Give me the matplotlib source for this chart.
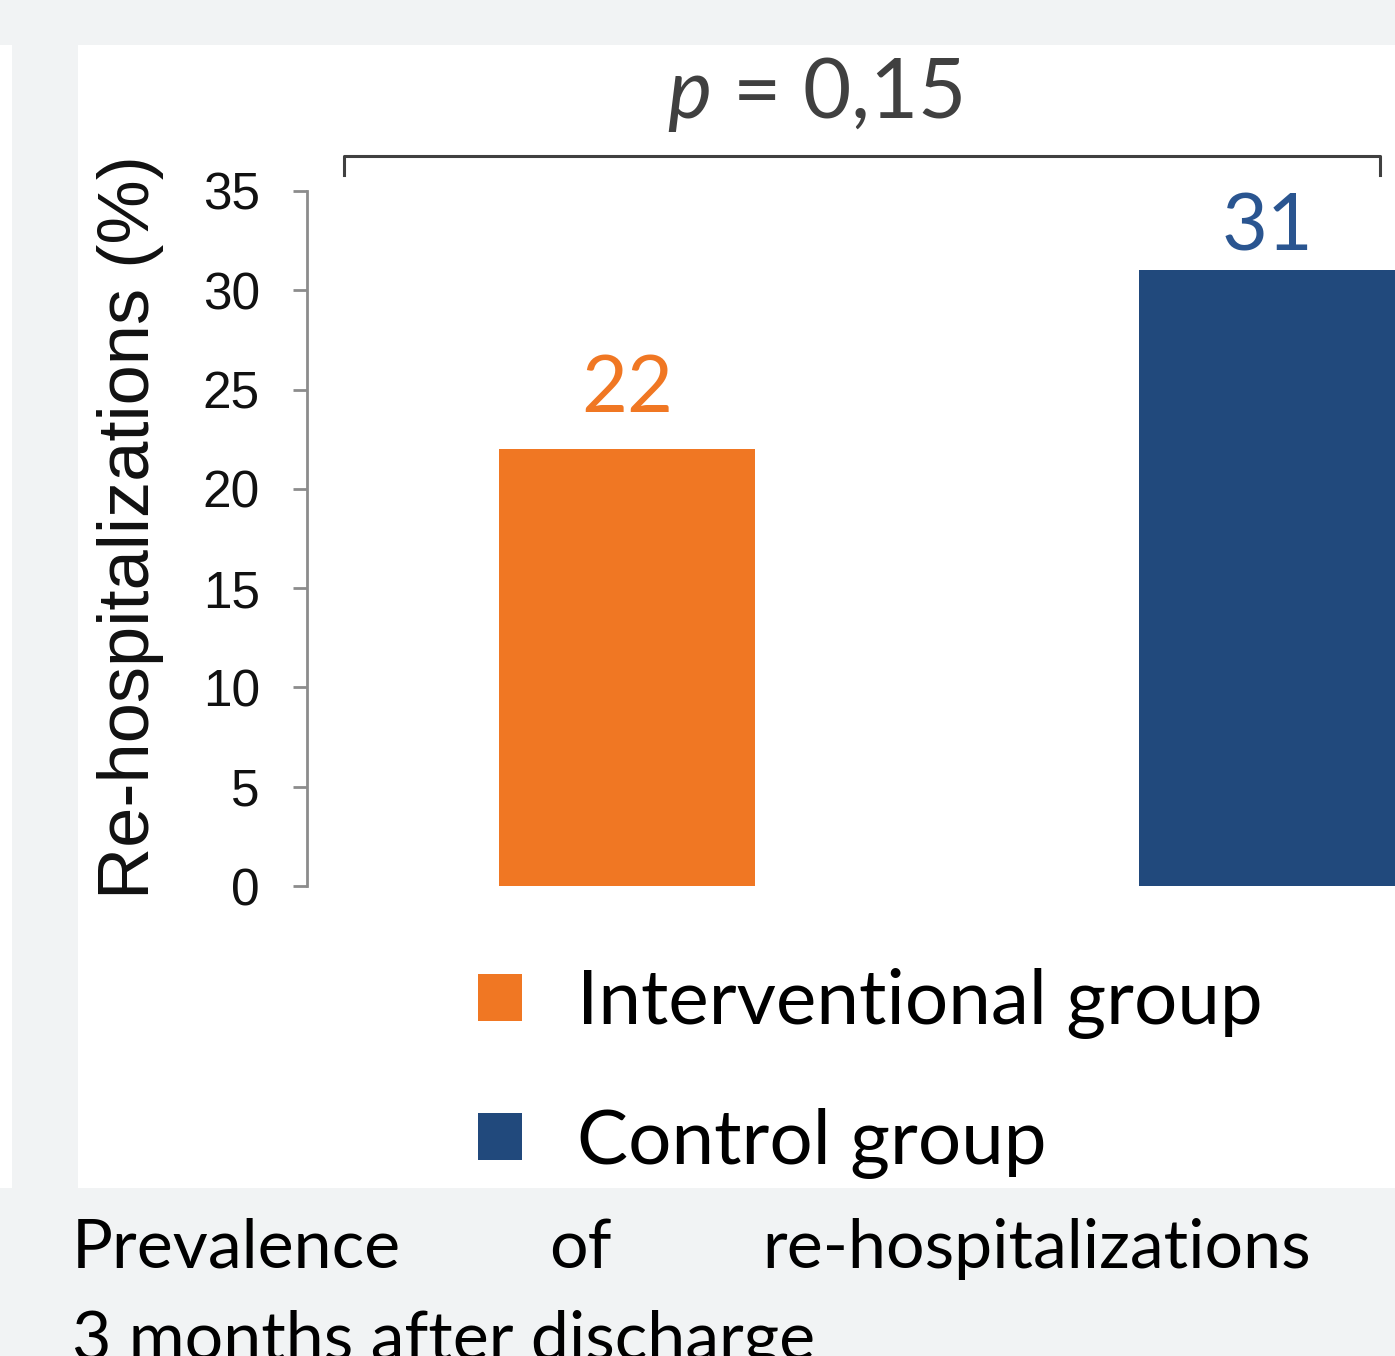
import matplotlib
matplotlib.use("Agg")
import matplotlib.pyplot as plt
from matplotlib.patches import Rectangle

# data
groups = ["Interventional group", "Control group"]
values = [22, 31]
colors = ["#F07723", "#21497C"]
p_text = "$p$ = 0,15"
y_ticks = [0, 5, 10, 15, 20, 25, 30, 35]
caption_words = ["Prevalence", "of", "re-hospitalizations"]
caption_line2 = "3 months after discharge"

plt.rcParams["mathtext.fontset"] = "custom"
plt.rcParams["mathtext.it"] = "Lato:italic"
plt.rcParams["mathtext.rm"] = "Lato"

W, H = 1395, 1356
fig = plt.figure(figsize=(W / 100, H / 100), dpi=100)
fig.patch.set_facecolor("#F1F3F4")

# white panel behind the chart
fig.patches.append(Rectangle((78 / W, 1 - 1188 / H), 1 - 78 / W, (1188 - 45) / H,
                             transform=fig.transFigure, facecolor="white", edgecolor="none", zorder=-5))
fig.patches.append(Rectangle((0, 1 - 1188 / H), 12 / W, (1188 - 45) / H,
                             transform=fig.transFigure, facecolor="white", edgecolor="none", zorder=-5))

ax = fig.add_axes([307 / W, 1 - 886 / H, 1 - 307 / W, (886 - 191) / H])
ax.set_facecolor("none")
ax.set_zorder(2)

bars = []
for i in range(len(values)):
    b = ax.bar(i, values[i], width=0.4, color=colors[i], label=groups[i])
    bars.append(b)

ax.bar_label(bars[0], padding=17, fontsize=57, color=colors[0], family="Lato")
ax.bar_label(bars[1], padding=4, fontsize=57, color="#2A5590", family="Lato")

ax.set_xlim(-0.5, 1.2)
ax.set_ylim(0, 35)
ax.set_xticks([])
ax.set_yticks(y_ticks)
ax.tick_params(axis="y", length=10, width=2, color="#8C8C8C", pad=24,
               labelsize=37, labelcolor="#111111")
for lab in ax.get_yticklabels():
    lab.set_family("Liberation Sans")
for s in ["top", "right", "bottom"]:
    ax.spines[s].set_visible(False)
ax.spines["left"].set_color("#8C8C8C")
ax.spines["left"].set_linewidth(2)

ax.set_ylabel("Re-hospitalizations (%)", fontsize=52, family="Liberation Sans", color="#111111")
ax.yaxis.set_label_coords(-0.131, 0.517)

# significance bracket
ax.plot([-0.442, -0.442, 1.177, 1.177], [35.8, 36.76, 36.76, 35.8],
        color="#404040", lw=2.2, clip_on=False)
ax.text(0.293, 38.7, p_text, ha="center", va="baseline", fontsize=60,
        family="Lato", color="#404040", clip_on=False)

# legend
fig.legend(handles=[b[0] for b in bars], labels=groups, loc="upper left",
           bbox_to_anchor=(478 / W, 1 - 968 / H), frameon=False,
           prop={"family": "Lato", "size": 55}, handlelength=0.57, handleheight=0.57,
           handletextpad=0.72, labelspacing=0.9, borderpad=0, borderaxespad=0)

# caption
xs = [72, 549, 762]
for w, x in zip(caption_words, xs):
    fig.text(x / W, 1 - 1268 / H, w, fontsize=49, family="Lato", color="black", va="baseline")
fig.text(72 / W, 1 - 1360 / H, caption_line2, fontsize=49, family="Lato", color="black", va="baseline")

fig.savefig("out.png", dpi=100, facecolor=fig.get_facecolor())
